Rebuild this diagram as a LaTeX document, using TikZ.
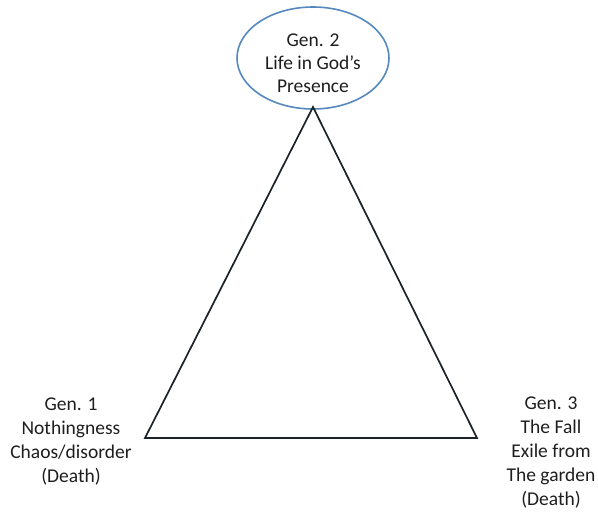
\documentclass[tikz,border=0pt]{standalone}
\usepackage{fontspec}
\setmainfont{Carlito}
\usetikzlibrary{shapes.geometric}
\definecolor{ellblue}{RGB}{84,136,190}
\definecolor{triline}{RGB}{25,35,40}
\definecolor{txt}{RGB}{30,30,30}
\tikzset{
  lbl/.style={align=center, text=txt, font=\fontsize{19.5}{24}\selectfont, inner sep=0pt},
  tri/.style={draw=triline, line width=1.7pt},
}
\begin{document}
\begin{tikzpicture}[x=1pt,y=-1pt]
\useasboundingbox (0,0) rectangle (598,512);
\node[ellipse, draw=ellblue, line width=1.6pt, minimum width=152pt, minimum height=102pt, inner sep=0pt] (top) at (313,58) {};
\node[lbl, font=\fontsize{19.5}{23}\selectfont] (toptxt) at (313,63) {Gen. 2\\Life in God’s\\Presence};
\coordinate (apex) at (313,107);
\coordinate (bl) at (145,438);
\coordinate (br) at (477,438);
\draw[tri, line join=miter] (apex) -- (bl) -- (br) -- cycle;
\node[lbl] (left) at (71,442) {Gen. 1\\Nothingness\\Chaos/disorder\\(Death)};
\node[lbl] (right) at (551,453) {Gen. 3\\The Fall\\Exile from\\The garden\\(Death)};
\end{tikzpicture}
\end{document}
